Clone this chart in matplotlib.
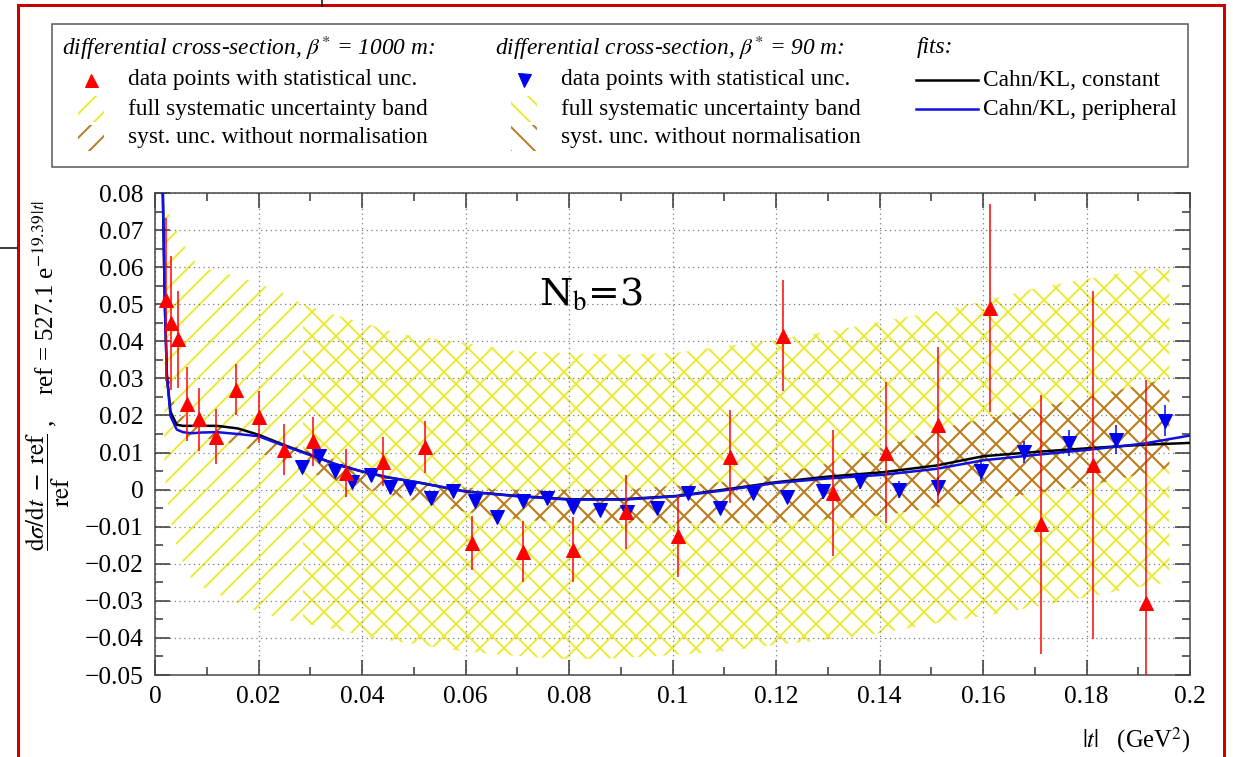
import matplotlib
matplotlib.use('Agg')
import matplotlib.pyplot as plt
from matplotlib.patches import Rectangle
from matplotlib.lines import Line2D

# ---- data ----
# beta* = 1000 m, data points (t, value, stat. unc.)
red_t = [0.0021, 0.0030, 0.0045, 0.0061, 0.0085, 0.0117, 0.0157, 0.0200, 0.0249,
         0.0305, 0.0370, 0.0441, 0.0522, 0.0612, 0.0711, 0.0808, 0.0910, 0.1011,
         0.1111, 0.1213, 0.1310, 0.1413, 0.1513, 0.1614, 0.1713, 0.1813, 0.1915]
red_y = [0.0512, 0.0450, 0.0405, 0.0230, 0.0190, 0.0143, 0.0270, 0.0197, 0.0108,
         0.0130, 0.0045, 0.0075, 0.0116, -0.0143, -0.0167, -0.0162, -0.0060, -0.0126,
         0.0089, 0.0415, -0.0008, 0.0100, 0.0175, 0.0490, -0.0094, 0.0067, -0.0305]
red_err = [0.022, 0.018, 0.013, 0.010, 0.0085, 0.0075, 0.007, 0.007, 0.0068,
           0.0066, 0.0065, 0.0066, 0.007, 0.0073, 0.0082, 0.0088, 0.010, 0.011,
           0.0125, 0.015, 0.017, 0.019, 0.021, 0.028, 0.035, 0.047, 0.060]

# beta* = 90 m, data points
blue_t = [0.0284, 0.0317, 0.0348, 0.0381, 0.0417, 0.0454, 0.0493, 0.0533, 0.0575,
          0.0618, 0.0661, 0.0711, 0.0757, 0.0808, 0.0860, 0.0912, 0.0970, 0.1030,
          0.1092, 0.1155, 0.1221, 0.1290, 0.1362, 0.1438, 0.1513, 0.1596, 0.1680,
          0.1767, 0.1857, 0.1952]
blue_y = [0.0060, 0.0090, 0.0049, 0.0020, 0.0040, 0.0008, 0.0005, -0.0022, -0.0005,
          -0.0032, -0.0075, -0.0032, -0.0022, -0.0046, -0.0054, -0.0060, -0.0049, -0.0008,
          -0.0049, -0.0008, -0.0019, -0.0005, 0.0022, 0.0000, 0.0008, 0.0049, 0.0102,
          0.0127, 0.0135, 0.0186]
blue_err = [0.0008, 0.0008, 0.0008, 0.0008, 0.0008, 0.0008, 0.0009, 0.0009, 0.0009,
            0.0010, 0.0010, 0.0010, 0.0010, 0.0012, 0.0012, 0.0013, 0.0014, 0.0015,
            0.0016, 0.0017, 0.0018, 0.0020, 0.0021, 0.0023, 0.0025, 0.0027, 0.0030,
            0.0035, 0.0038, 0.0042]

# fits
fit_t = [0.0015, 0.0019, 0.0023, 0.0030, 0.0042, 0.0054, 0.0070, 0.0090, 0.0120,
         0.0160, 0.0200, 0.0250, 0.0306, 0.0350, 0.0400, 0.0450, 0.0506, 0.0600,
         0.0700, 0.0800, 0.0905, 0.1008, 0.1100, 0.1200, 0.1300, 0.1407, 0.1510,
         0.1600, 0.1704, 0.1807, 0.1910, 0.2000]
fit_const = [0.081, 0.050, 0.031, 0.021, 0.0175, 0.0172, 0.0172, 0.0172, 0.0172,
             0.0165, 0.0148, 0.0120, 0.0091, 0.0068, 0.0049, 0.0033, 0.0020, -0.0005,
             -0.0017, -0.0026, -0.0026, -0.0017, 0.0000, 0.0020, 0.0035, 0.0047, 0.0065,
             0.0090, 0.0102, 0.0112, 0.0121, 0.0126]
fit_periph = [0.081, 0.050, 0.0305, 0.0198, 0.0162, 0.0155, 0.0152, 0.0154, 0.0155,
              0.0150, 0.0144, 0.0118, 0.0090, 0.0068, 0.0049, 0.0033, 0.0020, -0.0005,
              -0.0018, -0.0027, -0.0027, -0.0018, -0.0002, 0.0018, 0.0030, 0.0040, 0.0056,
              0.0079, 0.0094, 0.0108, 0.0124, 0.0146]

# full systematic uncertainty band
band_t = [0.0018, 0.0025, 0.0035, 0.0048, 0.0068, 0.0087, 0.0119, 0.0180, 0.0248,
          0.0286, 0.0350, 0.0403, 0.0470, 0.0596, 0.0700, 0.0802, 0.0905, 0.1008,
          0.1098, 0.1200, 0.1304, 0.1407, 0.1510, 0.1600, 0.1704, 0.1807, 0.1910, 0.1960]
band_hi = [0.078, 0.075, 0.072, 0.068, 0.063, 0.060, 0.059, 0.0566, 0.053,
           0.050, 0.047, 0.045, 0.042, 0.0396, 0.0373, 0.0368, 0.0364, 0.0369,
           0.0386, 0.0404, 0.0427, 0.0454, 0.048, 0.0508, 0.0544, 0.057, 0.0593, 0.0598]
band_lo = [0.005, -0.004, -0.0116, -0.018, -0.0234, -0.026, -0.028, -0.032, -0.035,
           -0.036, -0.0377, -0.0395, -0.041, -0.0436, -0.0449, -0.0458, -0.0454, -0.0445,
           -0.0436, -0.0418, -0.0404, -0.0386, -0.036, -0.0341, -0.0315, -0.0288, -0.026, -0.025]

# systematic uncertainty without normalisation
nonorm_t = [0.0025, 0.0035, 0.0050, 0.0080, 0.0120, 0.0160, 0.0200, 0.0240, 0.0286,
            0.0350, 0.0400, 0.0500, 0.0600, 0.0700, 0.0800, 0.0900, 0.1000, 0.1100,
            0.1200, 0.1300, 0.1400, 0.1500, 0.1600, 0.1700, 0.1800, 0.1900, 0.1960]
nonorm_hi = [0.034, 0.024, 0.020, 0.019, 0.0175, 0.016, 0.0145, 0.013, 0.011,
             0.008, 0.005, 0.002, 0.0005, 0.0, 0.0, 0.0, 0.001, 0.002,
             0.004, 0.007, 0.011, 0.016, 0.019, 0.022, 0.025, 0.028, 0.030]
nonorm_lo = [0.026, 0.018, 0.0145, 0.014, 0.0135, 0.012, 0.010, 0.008, 0.005,
             0.0025, 0.0005, -0.003, -0.006, -0.008, -0.009, -0.009, -0.009, -0.009,
             -0.009, -0.008, -0.007, -0.005, -0.003, -0.001, 0.001, 0.004, 0.006]

x_ticks = [0, 0.02, 0.04, 0.06, 0.08, 0.1, 0.12, 0.14, 0.16, 0.18, 0.2]
x_labels = ['0', '0.02', '0.04', '0.06', '0.08', '0.1', '0.12', '0.14', '0.16', '0.18', '0.2']
y_ticks = [-0.05, -0.04, -0.03, -0.02, -0.01, 0, 0.01, 0.02, 0.03, 0.04, 0.05, 0.06, 0.07, 0.08]
y_labels = ['\u22120.05', '\u22120.04', '\u22120.03', '\u22120.02', '\u22120.01', '0',
            '0.01', '0.02', '0.03', '0.04', '0.05', '0.06', '0.07', '0.08']

YELLOW = '#ecea38'
BROWN = '#b97d2d'
SERIF = 'Liberation Serif'

plt.rcParams['font.family'] = SERIF
plt.rcParams['mathtext.fontset'] = 'stix'
plt.rcParams['hatch.linewidth'] = 2.0

W, H, DPI = 1233, 757, 72
fig = plt.figure(figsize=(W / DPI, H / DPI), dpi=DPI)


def fx(x):
    return x / W


def fy(y):
    return 1 - y / H


ax = fig.add_axes([fx(155), fy(675), fx(1190) - fx(155), fy(193) - fy(675)])

# bands (beta*=1000 m with '/', beta*=90 m with '\' -> crossed where both)
k = band_t.index(0.0286)
ax.fill_between(band_t, band_lo, band_hi, facecolor='none', edgecolor=YELLOW,
                hatch='/', linewidth=0, zorder=1)
ax.fill_between(band_t[k:], band_lo[k:], band_hi[k:], facecolor='none', edgecolor=YELLOW,
                hatch='\\', linewidth=0, zorder=1)
j = nonorm_t.index(0.0286)
ax.fill_between(nonorm_t, nonorm_lo, nonorm_hi, facecolor='none', edgecolor=BROWN,
                hatch='/', linewidth=0, zorder=1.2)
ax.fill_between(nonorm_t[j:], nonorm_lo[j:], nonorm_hi[j:], facecolor='none', edgecolor=BROWN,
                hatch='\\', linewidth=0, zorder=1.2)

ax.plot(fit_t, fit_const, color='black', lw=2.5, zorder=3)
ax.plot(fit_t, fit_periph, color='#1010e0', lw=2.5, zorder=3.2)

ax.errorbar(blue_t, blue_y, yerr=blue_err, fmt='v', color='#0000f0', ms=14,
            elinewidth=1.5, capsize=0, zorder=4)
ax.errorbar(red_t, red_y, yerr=red_err, fmt='^', color='#ff0000', ms=14,
            elinewidth=1.5, capsize=0, zorder=5)

ax.set_xlim(0, 0.2)
ax.set_ylim(-0.05, 0.08)
ax.set_xticks(x_ticks)
ax.set_xticklabels(x_labels)
ax.set_yticks(y_ticks)
ax.set_yticklabels(y_labels)
ax.set_xticks([0.01 + 0.02 * i for i in range(10)], minor=True)
ax.set_yticks([-0.045 + 0.01 * i for i in range(13)], minor=True)
ax.tick_params(which='both', direction='in', top=True, right=True, labelsize=25.5,
               color='#333333', width=1.5)
ax.tick_params(which='major', length=15)
ax.tick_params(which='minor', length=8)
ax.tick_params(axis='x', pad=11)
ax.tick_params(axis='y', pad=11)
ax.grid(True, which='major', color='#777777', linestyle=(0, (1, 3)), linewidth=1.2)
for sp in ax.spines.values():
    sp.set_color('#444444')
    sp.set_linewidth(1.5)

ax.text(0.0742, 0.0495, r'N$_{\mathrm{b}}$=3', fontsize=38, family='DejaVu Serif',
        ha='left', va='baseline', zorder=6)

# axis titles
fig.text(fx(48), fy(376),
         r'$\dfrac{\mathrm{d}\sigma/\mathrm{d}t\ -\ \mathrm{ref}}{\mathrm{ref}}$'
         + ' ,    ref = 527.1 e' + r'$^{-19.39\,|t|}$',
         rotation=90, ha='center', va='center', fontsize=25)
fig.text(fx(1190), fy(740), r'$|t|$   (GeV$^{2}$)', ha='right', va='center', fontsize=24.5)

# legend box
fig.add_artist(Rectangle((fx(52), fy(167)), fx(1188) - fx(52), fy(24) - fy(167),
                         transform=fig.transFigure, facecolor='white',
                         edgecolor='#555555', lw=1.5))
rows = [48, 80, 109, 138]
fs = 23.4
cols = [(62, 91, 128, 'differential cross-section, $\\beta^{*}$ = 1000 m:', '^', '#ff0000', '/'),
        (495, 524, 561, 'differential cross-section, $\\beta^{*}$ = 90 m:', 'v', '#0000f0', '\\')]
for hx, sx, tx, head, mk, mc, hatch in cols:
    fig.text(fx(hx), fy(rows[0]), head, style='italic', fontsize=fs, va='center')
    fig.add_artist(Line2D([fx(sx)], [fy(rows[1])], transform=fig.transFigure,
                          marker=mk, color=mc, ms=13, ls='none'))
    for r, col in ((rows[2], YELLOW), (rows[3], BROWN)):
        fig.add_artist(Rectangle((fx(sx - 13), fy(r + 13)), fx(26), 26 / H,
                                 transform=fig.transFigure, facecolor='none',
                                 edgecolor=col, hatch=hatch, lw=0))
    fig.text(fx(tx), fy(rows[1]), 'data points with statistical unc.', fontsize=fs, va='center')
    fig.text(fx(tx), fy(rows[2]), 'full systematic uncertainty band', fontsize=fs, va='center')
    fig.text(fx(tx), fy(rows[3]), 'syst. unc. without normalisation', fontsize=fs, va='center')

fig.text(fx(917), fy(rows[0]), 'fits:', style='italic', fontsize=fs, va='center')
for r, col, lab in ((rows[1], 'black', 'Cahn/KL, constant'),
                    (rows[2], '#1010e0', 'Cahn/KL, peripheral')):
    fig.add_artist(Line2D([fx(916), fx(978)], [fy(r), fy(r)], transform=fig.transFigure,
                          color=col, lw=2.5))
    fig.text(fx(983), fy(r), lab, fontsize=fs, va='center')

# frame and stray lines of the screenshot
fig.add_artist(Rectangle((fx(18), -0.05), fx(1224) - fx(18), fy(5) + 0.05,
                         transform=fig.transFigure, fill=False, edgecolor='#cc0000', lw=3))
fig.add_artist(Line2D([fx(322), fx(322)], [fy(0), fy(6)], transform=fig.transFigure,
                      color='black', lw=1.5))
fig.add_artist(Line2D([fx(0), fx(17)], [fy(248), fy(248)], transform=fig.transFigure,
                      color='black', lw=1.5))

fig.savefig('out.png', dpi=DPI)
